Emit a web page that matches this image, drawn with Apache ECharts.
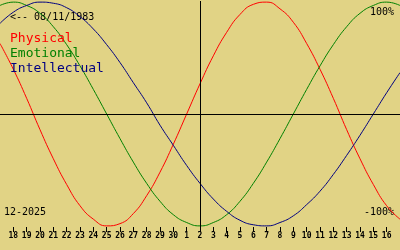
<!DOCTYPE html>
<html>
<head>
<meta charset="utf-8">
<script src="https://cdn.jsdelivr.net/npm/echarts@6/dist/echarts.min.js"></script>
<style>html,body{margin:0;padding:0;background:#e1d385;}#c{width:400px;height:250px;}</style>
</head>
<body>
<div id="c"></div>
<script>
// Days shown: 17 Nov 2025 .. 17 Dec 2025
const days = ['17','18','19','20','21','22','23','24','25','26','27','28','29','30',
  '1','2','3','4','5','6','7','8','9','10','11','12','13','14','15','16','17'];
// Biorhythm values (%), one per day
const physical = [63,40,14,-14,-40,-63,-82,-94,-100,-98,-89,-73,-52,-27,0,27,52,73,89,98,100,94,82,63,40,14,-14,-40,-63,-82,-94];
const emotional = [97,100,97,90,78,62,43,22,0,-22,-43,-62,-78,-90,-97,-100,-97,-90,-78,-62,-43,-22,0,22,43,62,78,90,97,100,97];
const intellectual = [81,91,97,100,99,95,87,76,62,46,28,10,-10,-28,-46,-62,-76,-87,-95,-99,-100,-97,-91,-81,-69,-54,-37,-19,0,19,37];
const names = ['Physical','Emotional','Intellectual'];
const colors = ['#ff0000','#008000','#000080'];
const birth = '<-- 08/11/1983';
const monthLabel = '12-2025';
const topLabel = '100%';
const bottomLabel = '-100%';
const today = '2';

const mono = 'DejaVu Sans Mono';
const chart = echarts.init(document.getElementById('c'));
const hideEnds = (i) => i !== 0 && i !== days.length - 1;
function line(name, data, color, extra) {
  return Object.assign({
    name, type: 'line', data, smooth: true, symbol: 'none',
    lineStyle: { color, width: 1 }, itemStyle: { color },
    emphasis: { disabled: true }, silent: true
  }, extra || {});
}
chart.setOption({
  animation: false,
  backgroundColor: '#e1d385',
  grid: { left: 0, right: 0, top: 1, height: 226 },
  xAxis: {
    type: 'category', data: days, boundaryGap: false,
    axisLine: { show: false, onZero: false },
    axisTick: { show: true, length: 5, interval: hideEnds, lineStyle: { color: '#000', width: 1 } },
    axisLabel: { interval: hideEnds, margin: 5, color: '#000', fontSize: 8, fontWeight: 'bold', fontFamily: mono },
    splitLine: { show: false }
  },
  yAxis: {
    type: 'value', min: -101, max: 101,
    axisLine: { show: false }, axisTick: { show: false }, axisLabel: { show: false }, splitLine: { show: false }
  },
  legend: {
    orient: 'vertical', left: 0, top: 27, itemWidth: 0, itemHeight: 13, itemGap: 2,
    selectedMode: false, icon: 'rect',
    textStyle: { fontFamily: mono, fontSize: 13 },
    data: names.map((n, i) => ({ name: n, textStyle: { color: colors[i] } }))
  },
  series: [
    line(names[0], physical, colors[0], {
      markLine: {
        symbol: 'none', silent: true, label: { show: false },
        lineStyle: { color: '#000', width: 1, type: 'solid' },
        emphasis: { disabled: true },
        data: [{ yAxis: 0 }, { xAxis: days.indexOf(today) }]
      }
    }),
    line(names[1], emotional, colors[1]),
    line(names[2], intellectual, colors[2])
  ],
  graphic: [
    { type: 'text', silent: true, style: { text: birth, x: 10, y: 17, textVerticalAlign: 'middle', verticalAlign: 'middle', fill: '#000', font: '10px ' + mono } },
    { type: 'text', silent: true, style: { text: topLabel, x: 394, y: 12, textAlign: 'right', align: 'right', textVerticalAlign: 'middle', verticalAlign: 'middle', fill: '#000', font: '10px ' + mono } },
    { type: 'text', silent: true, style: { text: bottomLabel, x: 394, y: 212, textAlign: 'right', align: 'right', textVerticalAlign: 'middle', verticalAlign: 'middle', fill: '#000', font: '10px ' + mono } },
    { type: 'text', silent: true, style: { text: monthLabel, x: 4, y: 212, textVerticalAlign: 'middle', verticalAlign: 'middle', fill: '#000', font: '10px ' + mono } }
  ]
});
</script>
</body>
</html>
